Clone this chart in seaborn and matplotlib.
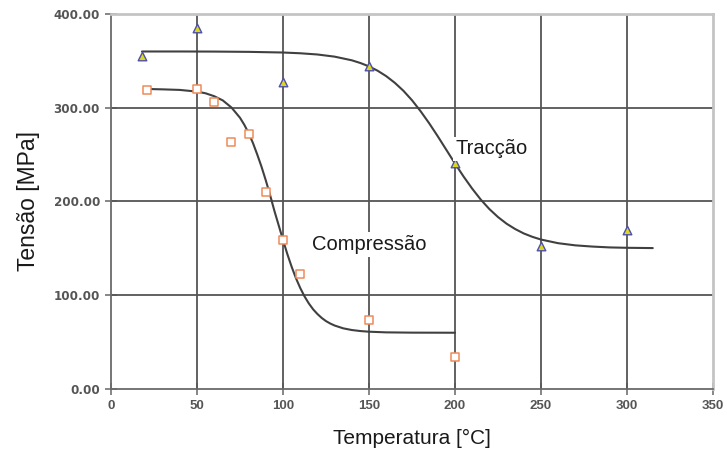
import matplotlib
matplotlib.use("Agg")
import matplotlib.pyplot as plt
import seaborn as sns
import pandas as pd

# Measured points
trac_temp = [18, 50, 100, 150, 200, 250, 300]
trac_stress = [355, 385, 327, 345, 241, 152, 170]

comp_temp = [21, 50, 60, 70, 80, 90, 100, 110, 150, 200]
comp_stress = [319, 320, 306, 263, 272, 210, 159, 123, 74, 34]

# Fitted trend curves
trac_fit_temp = [18, 40, 60, 80, 100, 110, 120, 130, 140, 145, 150, 155, 160, 165,
                 170, 175, 180, 185, 190, 195, 200, 205, 210, 215, 220, 225, 230,
                 235, 240, 245, 250, 260, 270, 280, 290, 300, 315]
trac_fit_stress = [360.0, 360.0, 359.9, 359.6, 358.9, 358.1, 356.8, 354.5, 350.6,
                   347.7, 344.1, 339.5, 333.7, 326.6, 318.1, 308.0, 296.3, 283.4,
                   269.5, 255.0, 240.5, 226.6, 213.7, 202.0, 191.9, 183.4, 176.3,
                   170.6, 165.9, 162.3, 159.4, 155.5, 153.2, 151.9, 151.0, 150.6,
                   150.3]

comp_fit_temp = [21, 30, 40, 50, 55, 60, 65, 70, 75, 77.5, 80, 82.5, 85, 87.5, 90,
                 92.5, 95, 97.5, 100, 102.5, 105, 107.5, 110, 112.5, 115, 117.5,
                 120, 122.5, 125, 127.5, 130, 135, 140, 145, 150, 160, 175, 200]
comp_fit_stress = [320.0, 319.6, 319.0, 317.2, 315.4, 312.3, 307.8, 300.3, 289.3,
                   281.8, 273.0, 262.5, 250.2, 237.1, 222.5, 206.8, 190.0, 174.5,
                   159.0, 144.0, 130.5, 118.3, 107.8, 98.8, 91.3, 85.0, 80.0, 75.8,
                   72.4, 69.8, 67.7, 64.7, 62.9, 61.8, 61.1, 60.4, 60.1, 60.0]

x_ticks = [0, 50, 100, 150, 200, 250, 300, 350]
y_ticks = [0, 100, 200, 300, 400]

sns.set_theme(style="white")
plt.rcParams["font.family"] = ["Liberation Sans", "DejaVu Sans"]

fig = plt.figure(figsize=(7.27, 4.54), dpi=100)
ax = fig.add_axes([0.1527, 0.1432, 0.8280, 0.8260])

grid_col = "#555555"
for xv in x_ticks[1:-1]:
    ax.axvline(xv, color=grid_col, lw=1.3, zorder=1)
for yv in y_ticks[1:-1]:
    ax.axhline(yv, color=grid_col, lw=1.3, zorder=1)

trac_fit = pd.DataFrame({"T": trac_fit_temp, "S": trac_fit_stress})
comp_fit = pd.DataFrame({"T": comp_fit_temp, "S": comp_fit_stress})
sns.lineplot(data=trac_fit, x="T", y="S", ax=ax, color="#404040", lw=1.5,
             sort=False, estimator=None, zorder=3)
sns.lineplot(data=comp_fit, x="T", y="S", ax=ax, color="#404040", lw=1.5,
             sort=False, estimator=None, zorder=3)

trac = pd.DataFrame({"T": trac_temp, "S": trac_stress})
comp = pd.DataFrame({"T": comp_temp, "S": comp_stress})
sns.scatterplot(data=trac, x="T", y="S", ax=ax, marker="^", s=38,
                color="#d8d820", edgecolor="#5050a8", linewidth=1.0, zorder=4)
sns.scatterplot(data=comp, x="T", y="S", ax=ax, marker="s", s=30,
                color="white", edgecolor="#f08a5a", linewidth=1.1, zorder=4)

ax.text(117, 154, "Compressão", fontsize=14.5, color="#1a1a1a", va="center", ha="left",
        bbox=dict(facecolor="white", edgecolor="none", pad=2), zorder=5)
ax.text(200.5, 256, "Tracção", fontsize=14.5, color="#1a1a1a", va="center", ha="left",
        bbox=dict(facecolor="white", edgecolor="none", pad=2), zorder=5)

ax.set_xlim(0, 350)
ax.set_ylim(0, 400)
ax.set_xticks(x_ticks)
ax.set_yticks(y_ticks)
ax.set_xticklabels([str(v) for v in x_ticks], family=["Liberation Sans", "DejaVu Sans"],
                   fontweight="bold", fontsize=9.5, color="#555555")
ax.set_yticklabels([f"{v:.2f}" for v in y_ticks], family=["DejaVu Sans"],
                   fontweight="bold", fontsize=8.6, color="#555555")
ax.tick_params(axis="both", direction="inout", length=8, width=1.1, color="#666666",
               left=True, bottom=True)
ax.tick_params(axis="y", pad=4)
ax.tick_params(axis="x", pad=4)

ax.set_xlabel("Temperatura [°C]", fontsize=15, color="#1a1a1a", labelpad=12)
ax.set_ylabel("Tensão [MPa]", fontsize=16.5, color="#1a1a1a", labelpad=10)

for side in ("left", "bottom"):
    ax.spines[side].set_color("#6a6a6a")
    ax.spines[side].set_linewidth(1.3)
for side in ("top", "right"):
    ax.spines[side].set_color("#c4c4c4")
    ax.spines[side].set_linewidth(2)
ax.grid(False)

fig.savefig("out.png", dpi=100)
